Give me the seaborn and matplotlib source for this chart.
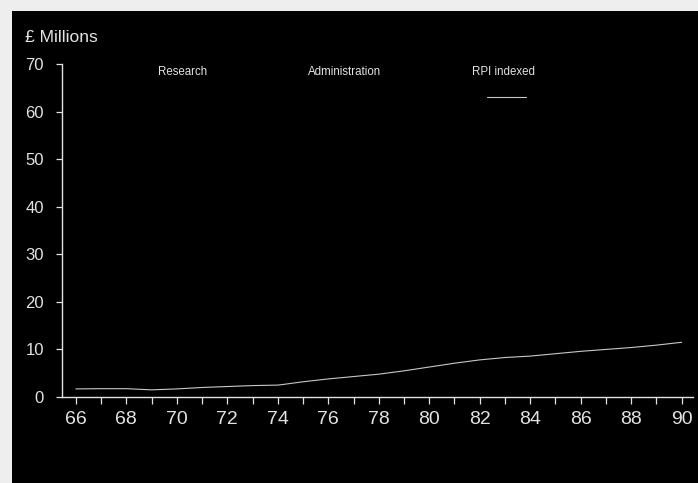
import matplotlib
matplotlib.use("Agg")
import matplotlib.pyplot as plt
import seaborn as sns
import pandas as pd
from matplotlib.patches import Rectangle
from matplotlib.lines import Line2D

years = [66, 67, 68, 69, 70, 71, 72, 73, 74, 74.3, 75, 76, 77, 78, 79, 80, 81, 82, 83, 84, 85, 86, 87, 88, 89, 90]
rpi_indexed = [1.7, 1.75, 1.75, 1.5, 1.7, 2.0, 2.2, 2.4, 2.5, 2.7, 3.2, 3.8, 4.3, 4.8, 5.5, 6.3, 7.1, 7.8, 8.3, 8.6, 9.1, 9.6, 10.0, 10.4, 10.9, 11.5]
legend_labels = ["Research", "Administration", "RPI indexed"]
xtick_labels = ["66", "68", "70", "72", "74", "76", "78", "80", "82", "84", "86", "88", "90"]
yticks = [0, 10, 20, 30, 40, 50, 60, 70]

df = pd.DataFrame({"year": years, "value": rpi_indexed})

sns.set_style("white")
plt.rcParams['font.family'] = ['Liberation Sans', 'DejaVu Sans']

W, H = 698, 483
fig = plt.figure(figsize=(W / 100, H / 100), dpi=100, facecolor="#eeeeee")
# black scanned panel
fig.patches.append(Rectangle((12 / W, 0), 1 - 12 / W, 1 - 11 / H, transform=fig.transFigure,
                             facecolor="black", edgecolor="none", zorder=-10))

ax = fig.add_axes([62 / W, (H - 397) / H, 631 / W, 333 / H])
ax.set_zorder(5)
ax.patch.set_visible(False)

fg = "#e2e2e2"
sns.lineplot(data=df, x="year", y="value", ax=ax, color="#c8c8c8", linewidth=0.8)

ax.set_xlim(65.45, 90.45)
ax.set_ylim(0, 70)
ax.set_xticks(list(range(66, 91, 2)))
ax.set_xticklabels(xtick_labels)
ax.set_xticks(list(range(67, 91, 2)), minor=True)
ax.set_yticks(yticks)
ax.set_yticklabels([str(v) for v in yticks])
ax.set_xlabel("")
ax.set_ylabel("")

for s in ["top", "right"]:
    ax.spines[s].set_visible(False)
for s in ["left", "bottom"]:
    ax.spines[s].set_color(fg)
    ax.spines[s].set_linewidth(1.0)

ax.tick_params(axis="x", which="both", direction="out", length=5, width=0.9, color=fg,
               labelcolor=fg, labelsize=14, pad=5, bottom=True)
ax.tick_params(axis="y", which="both", direction="out", length=4, width=0.9, color=fg,
               labelcolor=fg, labelsize=12, pad=9, left=True)

fig.text(25 / W, 1 - 37 / H, "£ Millions", color=fg, fontsize=12.5, va="center", ha="left", zorder=6)

# legend labels
label_x = [158, 308, 472]
for lx, lab in zip(label_x, legend_labels):
    fig.text(lx / W, 1 - 72 / H, lab, color=fg, fontsize=8.3, va="center", ha="left", zorder=6)
fig.lines.append(Line2D([487 / W, 526 / W], [1 - 97 / H, 1 - 97 / H], transform=fig.transFigure,
                        color="#c8c8c8", linewidth=0.8, zorder=6))

fig.savefig("out.png", dpi=100, facecolor=fig.get_facecolor())
